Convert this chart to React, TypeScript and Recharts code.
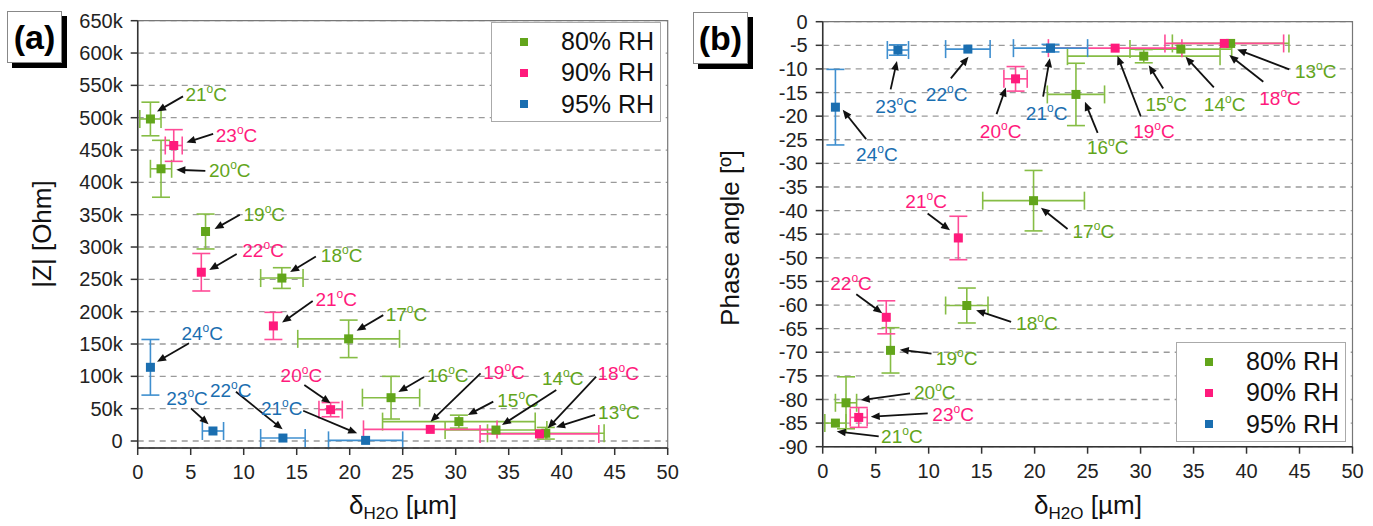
import { ScatterChart, Scatter, XAxis, YAxis, CartesianGrid, ErrorBar, ReferenceArea } from "recharts";

const FONT = "'Liberation Sans', Arial, sans-serif";

// 80 % RH
const temps80 = [21, 20, 19, 18, 17, 16, 15, 14, 13];
const delta80 = [1.2, 2.2, 6.4, 13.6, 19.9, 23.9, 30.3, 33.8, 38.5];
const deltaErr80 = [1.0, 1.0, 0, 2.0, 4.8, 2.7, 7.2, 4.8, 5.5];
const impedance80 = [498000, 421000, 324000, 252000, 158000, 67000, 30000, 17000, 12000];
const impedanceErr80 = [26000, 44000, 27000, 16000, 29000, 33000, 10000, 0, 9000];
const phase80 = [-85.0, -80.7, -69.6, -60.1, -37.9, -15.4, -7.3, -5.8, -4.6];
const phaseErr80 = [0, 5.5, 4.8, 3.7, 6.4, 6.6, 1.4, 0, 0];

// 90 % RH
const temps90 = [23, 22, 21, 20, 19, 18];
const delta90 = [3.4, 6.0, 12.8, 18.2, 27.6, 37.9];
const deltaErr90 = [0.8, 0, 0, 1.1, 6.3, 5.6];
const impedance90 = [457000, 261000, 178000, 48500, 18000, 11000];
const impedanceErr90 = [24500, 29000, 21000, 11000, 0, 0];
const phase90 = [-83.8, -62.6, -45.8, -12.1, -5.6, -4.6];
const phaseErr90 = [2.1, 3.5, 4.6, 2.6, 0, 0];

// 95 % RH
const temps95 = [24, 23, 22, 21];
const delta95 = [1.2, 7.1, 13.7, 21.5];
const deltaErr95 = [0, 1.0, 2.1, 3.5];
const impedance95 = [114000, 15500, 4600, 1000];
const impedanceErr95 = [43000, 0, 0, 0];
const phase95 = [-18.1, -6.0, -5.8, -5.6];
const phaseErr95 = [8.0, 1.1, 0, 0.8];

const xTicks = [0, 5, 10, 15, 20, 25, 30, 35, 40, 45, 50];
const zTicks = [0, 50000, 100000, 150000, 200000, 250000, 300000, 350000, 400000, 450000, 500000, 550000, 600000, 650000];
const phaseTicks = [-90, -85, -80, -75, -70, -65, -60, -55, -50, -45, -40, -35, -30, -25, -20, -15, -10, -5, 0];

const seriesNames = ["80% RH", "90% RH", "95% RH"];
const markerColors = ["#62a51b", "#ff1a7c", "#1a6eb0"];
const barColors = ["#86bd45", "#ff4b97", "#3f8fcf"];

// annotation layout: [text dx, text dy, tail dx, tail dy, head dx, head dy] relative to the point, px
const labA80 = [[35, -25, 32.6, -22.6, 6.6, -7.6], [48, 1, 44.3, 2, 15.3, 1], [38, -17.7, 34.3, -16.7, 9, -2.4], [39, -23, 34, -21.6, 8.3, -6], [37, -24.7, 34.6, -23.7, 8, -8], [36, -23, 33, -20.7, 7.3, -5.7], [38.4, -21.7, 34.4, -20, 9, -6.7], [46, -51.7, 60.3, -40, 6, -5], [52.3, -20.6, 49.3, -18.3, 10.3, -6]];
const labA90 = [[42, -10.7, 39.4, -11.7, 12.7, -3], [41, -22, 35.4, -18.3, 8, -2.3], [42, -27, 39.3, -25, 8.7, -3.3], [-50, -34.7, -26.3, -24.7, 0, -6.4], [53, -57.6, 50.3, -56, 0.3, -7.6], [58, -60.7, 56.7, -57.3, 8.3, -5.7]];
const labA95 = [[31, -34.6, 38.6, -24, 6.6, -5.6], [-46.7, -32.7, -22, -22.7, -4.4, -6.7], [-73, -48, -47, -46.3, -0.3, -8.7], [-104.7, -32, -62.4, -29.6, -8.4, -7]];
const labB80 = [[45.7, 13.3, 43.3, 13.3, 1.3, 8.3], [68, -11, 64, -9.4, 14.7, -2.7], [45.3, 7.3, 41, 3.3, 9.3, -0.7], [49.3, 18, 44.3, 16.4, 9.3, 4.7], [39, 30.3, 34, 28.3, 7.4, 7], [11, 52.4, 21.7, 38.4, 9, 7.4], [1.7, 48.3, 19.4, 32.3, 5, 9], [23, 55.3, 33, 38.3, 4.7, 7.7], [64.3, 27.7, 58.6, 26, 6.6, 6]];
const labB90 = [[73.6, -3, 69, -4, 12, -0.6], [-56, -34.6, -30, -23, -4, -4], [-53, -37, -30.7, -24.4, -8.3, -7.7], [-35.7, 52, -19, 35.3, -9.7, 8.7], [18, 83.4, 25.7, 68.4, 2.3, 7.7], [35, 54.4, 39, 38.4, 5, 11.7]];
const labB95 = [[20.7, 47, 30.7, 32, 7.3, 2.7], [-22.6, 56, -7.3, 39.3, -1, 11], [-42, 45.3, -17, 29.3, 0.6, 7.7], [-24.7, 65, -7.4, 48.4, -0.7, 10]];

function rows(t: number[], x: number[], ex: number[], y: number[], ey: number[], lab: number[][]) {
  return t.map((temp, i) => ({ t: temp, x: x[i], ex: ex[i], y: y[i], ey: ey[i], lab: lab[i] }));
}

function makeShape(color: string) {
  return (props: any) => {
    const { cx, cy, payload } = props;
    const l = payload.lab;
    let anno = null;
    if (l) {
      const [tx, ty, x1, y1, x2, y2] = l;
      const ax = cx + x1, ay = cy + y1, hx = cx + x2, hy = cy + y2;
      const len = Math.hypot(hx - ax, hy - ay) || 1;
      const ux = (hx - ax) / len, uy = (hy - ay) / len;
      const bx = hx - ux * 9, by = hy - uy * 9;
      anno = (
        <g>
          <line x1={ax} y1={ay} x2={hx - ux * 6} y2={hy - uy * 6} stroke="#111" strokeWidth={1.8} />
          <polygon points={`${hx},${hy} ${bx - uy * 3.8},${by + ux * 3.8} ${bx + uy * 3.8},${by - ux * 3.8}`} fill="#111" />
          <text x={cx + tx} y={cy + ty} fill={color} fontSize={19} fontFamily={FONT}>
            <tspan dy="0.36em">{payload.t}</tspan>
            <tspan fontSize={12} dy={-8}>o</tspan>
            <tspan dy={8}>C</tspan>
          </text>
        </g>
      );
    }
    return (
      <g>
        <rect x={cx - 4.5} y={cy - 4.5} width={9} height={9} fill={color} />
        {anno}
      </g>
    );
  };
}

const tickStyle = { fontSize: 20, fill: "#222", fontFamily: FONT };

function Panel(props: { data: any[][]; yDomain: number[]; yTicks: number[]; fmt?: (v: number) => string; margin: any }) {
  const { data, yDomain, yTicks, fmt, margin } = props;
  return (
    <ScatterChart width={700} height={526} margin={margin}>
      <CartesianGrid vertical={false} stroke="#9a9a9a" strokeDasharray="6 5" strokeWidth={1.3} />
      <ReferenceArea x1={0} x2={50} y1={yDomain[0]} y2={yDomain[1]} fill="none" stroke="#777" strokeWidth={1.2} />
      <XAxis type="number" dataKey="x" domain={[0, 50]} ticks={xTicks} interval={0} allowDataOverflow height={40}
        tick={tickStyle} tickSize={7} tickMargin={10} stroke="#333" strokeWidth={1.5} />
      <YAxis type="number" dataKey="y" domain={yDomain} ticks={yTicks} interval={0} allowDataOverflow width={80}
        tick={tickStyle} tickSize={7} tickMargin={8} tickFormatter={fmt} stroke="#333" strokeWidth={1.5} />
      {data.map((d, i) => (
        <Scatter key={i} name={seriesNames[i]} data={d} fill={markerColors[i]} isAnimationActive={false} shape={makeShape(markerColors[i])}>
          <ErrorBar dataKey="ex" direction="x" width={9} stroke={barColors[i]} strokeWidth={1.6} />
          <ErrorBar dataKey="ey" direction="y" width={9} stroke={barColors[i]} strokeWidth={1.6} />
        </Scatter>
      ))}
    </ScatterChart>
  );
}

function LegendBox(props: { left: number; top: number }) {
  return (
    <div style={{ position: "absolute", left: props.left, top: props.top, width: 170, height: 100, border: "1px solid #aaa", background: "#fff", boxSizing: "border-box", fontFamily: FONT }}>
      {seriesNames.map((n, i) => (
        <div key={n} style={{ position: "absolute", left: 0, top: 3 + i * 31.3, height: 31, width: 170, display: "flex", alignItems: "center" }}>
          <div style={{ marginLeft: 28, width: 8, height: 8, background: markerColors[i] }} />
          <div style={{ marginLeft: 33, fontSize: 25, color: "#111" }}>{n}</div>
        </div>
      ))}
    </div>
  );
}

function Tag(props: { left: number; top: number; text: string }) {
  return (
    <div style={{ position: "absolute", left: props.left, top: props.top, width: 55, height: 52, border: "1px solid #888", background: "#fff", boxShadow: "5px 5px 0 #000", boxSizing: "border-box", fontFamily: FONT, fontWeight: "bold", fontSize: 34, lineHeight: "50px", textAlign: "center" }}>
      {props.text}
    </div>
  );
}

function XTitle(props: { cx: number }) {
  return (
    <div style={{ position: "absolute", left: props.cx - 150, top: 490, width: 300, height: 30, lineHeight: "30px", textAlign: "center", fontFamily: FONT, fontSize: 26, color: "#111" }}>
      δ<span style={{ fontSize: 17, position: "relative", top: 5 }}>H2O</span> [µm]
    </div>
  );
}

function YTitle(props: { cx: number; cy: number; text: string }) {
  return (
    <div style={{ position: "absolute", left: props.cx - 150, top: props.cy - 16, width: 300, height: 32, lineHeight: "32px", textAlign: "center", transform: "rotate(-90deg)", fontFamily: FONT, fontSize: 26, color: "#111" }}>
      {props.text}
    </div>
  );
}

export default function App() {
  const dataA = [
    rows(temps80, delta80, deltaErr80, impedance80, impedanceErr80, labA80),
    rows(temps90, delta90, deltaErr90, impedance90, impedanceErr90, labA90),
    rows(temps95, delta95, deltaErr95, impedance95, impedanceErr95, labA95),
  ];
  const dataB = [
    rows(temps80, delta80, deltaErr80, phase80, phaseErr80, labB80),
    rows(temps90, delta90, deltaErr90, phase90, phaseErr90, labB90),
    rows(temps95, delta95, deltaErr95, phase95, phaseErr95, labB95),
  ];
  const fmtK = (v: number) => (v === 0 ? "0" : `${v / 1000}k`);
  return (
    <div style={{ position: "absolute", left: 0, top: 0, width: 1373, height: 526, background: "#fff", overflow: "hidden" }}>
      <div style={{ position: "absolute", left: 0, top: 0 }}>
        <Panel data={dataA} yDomain={[-10800, 650000]} yTicks={zTicks} fmt={fmtK} margin={{ top: 20.7, right: 32.3, bottom: 38, left: 57.7 }} />
      </div>
      <div style={{ position: "absolute", left: 673, top: 0 }}>
        <Panel data={dataB} yDomain={[-90, 0]} yTicks={phaseTicks} margin={{ top: 21.7, right: 20.5, bottom: 39.3, left: 69.7 }} />
      </div>
      <LegendBox left={491} top={22} />
      <LegendBox left={1176} top={342} />
      <Tag left={7} top={11} text="(a)" />
      <Tag left={693} top={12} text="(b)" />
      <YTitle cx={42} cy={234} text="|Z| [Ohm]" />
      <YTitle cx={730} cy={238} text="Phase angle [º]" />
      <XTitle cx={403} />
      <XTitle cx={1088} />
    </div>
  );
}
